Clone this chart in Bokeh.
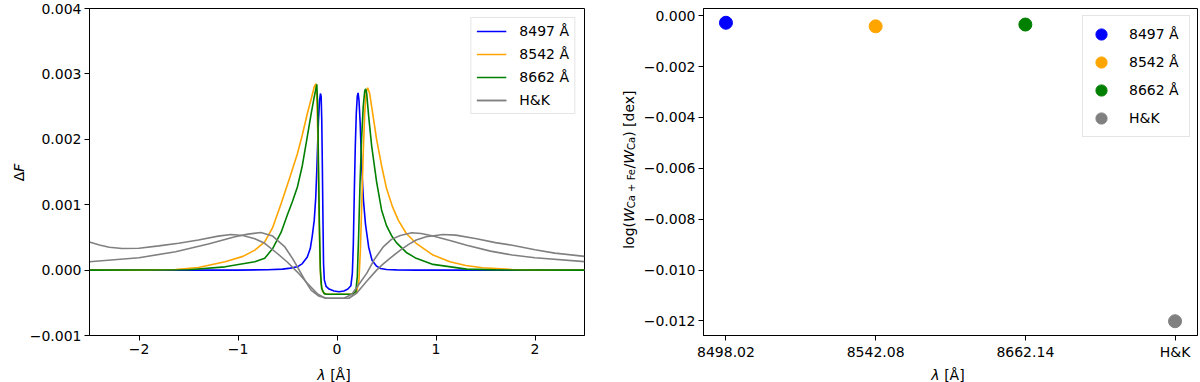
import numpy as np
from bokeh.plotting import figure
from bokeh.layouts import row, column
from bokeh.models import Range1d, FixedTicker, CustomJSTickFormatter, Label
from bokeh.embed import file_html
from bokeh.resources import INLINE

# ---------------- data (left panel: Delta F in units of 1e-3) ----------------
blue_x = [-2.5, -1.0, -0.7, -0.55, -0.47, -0.40, -0.35, -0.30, -0.27, -0.25, -0.23, -0.215, -0.204,
          -0.195, -0.187, -0.176, -0.167, -0.160, -0.154, -0.148, -0.142, -0.136, -0.128, -0.11,
          -0.08, -0.03, 0.02, 0.07, 0.11, 0.14, 0.155, 0.165, 0.175, 0.185, 0.195, 0.205, 0.213,
          0.222, 0.234, 0.251, 0.268, 0.288, 0.32, 0.354, 0.40, 0.44, 0.50, 0.60, 0.80, 2.5]
blue_y = [0, 0, 0.005, 0.015, 0.03, 0.05, 0.10, 0.20, 0.33, 0.52, 0.76, 1.10, 1.53, 1.95, 2.29,
          2.60, 2.70, 2.65, 2.30, 1.60, 0.80, 0.10, -0.15, -0.25, -0.29, -0.32, -0.33, -0.32,
          -0.29, -0.24, -0.05, 0.40, 1.20, 1.90, 2.40, 2.66, 2.71, 2.60, 2.25, 1.53, 1.05, 0.70,
          0.35, 0.15, 0.06, 0.025, 0.01, 0.003, 0, 0]

orange_x = [-2.5, -2.0, -1.63, -1.4, -1.13, -0.95, -0.83, -0.73, -0.65, -0.564, -0.48, -0.40,
            -0.35, -0.30, -0.26, -0.23, -0.213, -0.203, -0.193, -0.183, -0.173, -0.162, -0.145,
            -0.11, 0.15, 0.20, 0.222, 0.236, 0.25, 0.265, 0.28, 0.295, 0.31, 0.33, 0.36, 0.40,
            0.45, 0.50, 0.56, 0.62, 0.70, 0.80, 0.97, 1.14, 1.30, 1.47, 1.77, 2.0, 2.5]
orange_y = [0, 0.0, 0.01, 0.04, 0.127, 0.21, 0.305, 0.43, 0.65, 1.02, 1.40, 1.78, 2.07, 2.39,
            2.62, 2.80, 2.85, 2.60, 2.00, 1.00, 0.20, -0.20, -0.33, -0.37, -0.37, -0.33, -0.15,
            0.30, 1.00, 1.80, 2.40, 2.72, 2.79, 2.70, 2.40, 2.00, 1.60, 1.25, 0.97, 0.76, 0.56,
            0.41, 0.23, 0.127, 0.07, 0.035, 0.01, 0, 0]

green_x = [-2.5, -1.5, -1.13, -0.83, -0.73, -0.65, -0.564, -0.50, -0.45, -0.40, -0.35, -0.30,
           -0.26, -0.23, -0.204, -0.195, -0.187, -0.178, -0.168, -0.155, -0.13, -0.10, 0.15,
           0.19, 0.205, 0.218, 0.232, 0.248, 0.265, 0.28, 0.29, 0.30, 0.32, 0.35, 0.40, 0.45,
           0.50, 0.55, 0.60, 0.70, 0.80, 0.97, 1.31, 1.6, 2.5]
green_y = [0, 0.005, 0.05, 0.127, 0.18, 0.33, 0.58, 0.85, 1.05, 1.27, 1.6, 2.04, 2.4, 2.65,
           2.84, 2.5, 1.6, 0.7, 0.0, -0.28, -0.36, -0.37, -0.37, -0.33, -0.10, 0.5, 1.3, 2.0,
           2.5, 2.74, 2.77, 2.7, 2.35, 1.9, 1.35, 0.92, 0.68, 0.53, 0.42, 0.27, 0.18, 0.087,
           0.015, 0.003, 0]

hk_outer_x = [-2.5, -2.4, -2.3, -2.17, -2.0, -1.8, -1.6, -1.4, -1.2, -1.07, -0.95, -0.83, -0.73,
              -0.6, -0.5, -0.4, -0.3, -0.2, -0.12, 0.12, 0.2, 0.3, 0.4, 0.47, 0.55, 0.64, 0.72,
              0.80, 0.9, 1.07, 1.2, 1.41, 1.6, 1.77, 2.0, 2.2, 2.5]
hk_outer_y = [0.43, 0.385, 0.35, 0.33, 0.335, 0.37, 0.41, 0.46, 0.52, 0.545, 0.53, 0.48, 0.41,
              0.25, 0.12, -0.03, -0.2, -0.36, -0.43, -0.43, -0.35, -0.17, 0.0, 0.10, 0.2, 0.305,
              0.39, 0.46, 0.51, 0.545, 0.535, 0.48, 0.42, 0.38, 0.31, 0.26, 0.21]

hk_inner_x = [-2.5, -2.0, -1.63, -1.3, -1.03, -0.9, -0.77, -0.65, -0.53, -0.45, -0.40, -0.33,
              -0.26, -0.18, -0.10, 0.07, 0.15, 0.22, 0.30, 0.38, 0.47, 0.55, 0.64, 0.755, 0.85,
              0.97, 1.15, 1.31, 1.55, 1.77, 2.0, 2.5]
hk_inner_y = [0.127, 0.19, 0.28, 0.40, 0.51, 0.55, 0.575, 0.52, 0.36, 0.18, 0.05, -0.14, -0.31,
              -0.40, -0.43, -0.43, -0.37, -0.22, -0.05, 0.17, 0.36, 0.47, 0.53, 0.57, 0.56, 0.52,
              0.45, 0.38, 0.29, 0.23, 0.19, 0.13]

series_labels = ["8497 Å", "8542 Å", "8662 Å", "H&K"]
series_colors = ["blue", "orange", "green", "gray"]

# ---------------- data (right panel) ----------------
categories = ["8498.02", "8542.08", "8662.14", "H&K"]
log_ratio = [-0.00028, -0.00042, -0.00035, -0.01201]

FONT = "DejaVu Sans"
FS = "14px"

# ---------------- geometry ----------------
ROW_H, STRIP_H = 362, 20
LAB_L_W, LAB_R_W = 26, 40
L_W, L_BL, L_BR, L_BT, L_BB = 574, 57, 16, 8, 26
R_W, R_BL, R_BR, R_BT, R_BB = 560, 58, 3, 3, 27

lx0, lx1, ly0, ly1 = -2.5, 2.5, -0.001, 0.004
rx0, rx1, ry0, ry1 = -0.15, 3.15, -0.01257, 0.00028


def style(p):
    p.xgrid.visible = False
    p.ygrid.visible = False
    p.outline_line_color = "black"
    p.outline_line_width = 1
    for ax in (p.xaxis[0], p.yaxis[0]):
        ax.axis_line_color = "black"
        ax.major_tick_line_color = "black"
        ax.major_tick_out = 5
        ax.major_tick_in = 0
        ax.minor_tick_line_color = None
        ax.major_label_text_font = FONT
        ax.major_label_text_font_size = FS
        ax.major_label_text_color = "black"
        ax.major_label_standoff = 3


def style_legend(lg, margin, padding, spacing, gh, gw, standoff, label_width=20):
    lg.location = "top_right"
    lg.margin = margin
    lg.padding = padding
    lg.spacing = spacing
    lg.label_height = gh
    lg.glyph_height = gh
    lg.glyph_width = gw
    lg.label_standoff = standoff
    lg.label_width = label_width
    lg.label_text_font = FONT
    lg.label_text_font_size = FS
    lg.label_text_color = "black"
    lg.border_line_color = "#cccccc"
    lg.background_fill_alpha = 0.8


def text_strip(width, height):
    """A bare figure whose frame is the whole canvas; used only to hold axis-title text."""
    s = figure(width=width, height=height, output_backend="svg", toolbar_location=None,
               x_range=Range1d(0, 1), y_range=Range1d(0, 1), min_border=0,
               x_axis_location=None, y_axis_location=None)
    s.grid.visible = False
    s.outline_line_color = None
    return s


def add_label_pieces(p, pieces, base, start, rotated):
    """Mixed-style label in canvas pixels (y measured from the top).
    pieces: (text, size_px, italic, baseline_shift_down_px, advance_px)"""
    pos = 0.0
    for text, size, italic, shift, wpx in pieces:
        if rotated:
            x, y, ang = base + shift, start - pos, np.pi / 2
        else:
            x, y, ang = start + pos, base + shift, 0
        p.add_layout(Label(x=x, y=y, x_units="canvas", y_units="canvas", text=text,
                           angle=ang, text_align="left", text_baseline="alphabetic",
                           text_font=FONT, text_font_size=f"{size}px",
                           text_font_style="italic" if italic else "normal",
                           text_color="black"))
        pos += wpx


# ---------------- left panel ----------------
p1 = figure(width=L_W, height=ROW_H, output_backend="svg", toolbar_location=None,
            x_range=Range1d(lx0, lx1), y_range=Range1d(ly0, ly1),
            min_border_left=L_BL, min_border_right=L_BR, min_border_top=L_BT,
            min_border_bottom=L_BB)
style(p1)
p1.xaxis.ticker = FixedTicker(ticks=[-2, -1, 0, 1, 2])
p1.yaxis.ticker = FixedTicker(ticks=[-0.001, 0.0, 0.001, 0.002, 0.003, 0.004])
p1.xaxis.formatter = CustomJSTickFormatter(
    code="return (tick < 0 ? '\u2212' : '') + Math.abs(tick).toFixed(0);")
p1.yaxis.formatter = CustomJSTickFormatter(
    code="return (tick < -1e-12 ? '\u2212' : '') + Math.abs(tick).toFixed(3);")

scale = 1e-3
curves = [(blue_x, blue_y, 0), (orange_x, orange_y, 1), (green_x, green_y, 2),
          (hk_outer_x, hk_outer_y, 3), (hk_inner_x, hk_inner_y, 3)]
for xs, ys, k in curves:
    p1.line(xs, np.array(ys) * scale, line_color=series_colors[k], line_width=1.6,
            legend_label=series_labels[k])

style_legend(p1.legend[0], margin=9, padding=5, spacing=7, gh=16, gw=30, standoff=13)

# ---------------- right panel ----------------
p2 = figure(width=R_W, height=ROW_H, output_backend="svg", toolbar_location=None,
            x_range=Range1d(rx0, rx1), y_range=Range1d(ry0, ry1),
            min_border_left=R_BL, min_border_right=R_BR, min_border_top=R_BT,
            min_border_bottom=R_BB)
style(p2)
p2.xaxis.ticker = FixedTicker(ticks=list(range(len(categories))))
p2.xaxis.formatter = CustomJSTickFormatter(
    args=dict(labels=categories),
    code="const i = Math.round(tick); return (i >= 0 && i < labels.length) ? labels[i] : '';")
p2.yaxis.ticker = FixedTicker(ticks=[0.0, -0.002, -0.004, -0.006, -0.008, -0.010, -0.012])
p2.yaxis.formatter = CustomJSTickFormatter(
    code="return (tick < -1e-12 ? '\u2212' : '') + Math.abs(tick).toFixed(3);")

for i, (cat, val) in enumerate(zip(categories, log_ratio)):
    p2.scatter([i], [val], size=13, marker="circle", fill_color=series_colors[i],
               line_color=series_colors[i], legend_label=series_labels[i])

style_legend(p2.legend[0], margin=7, padding=4, spacing=-6, gh=28, gw=28, standoff=14,
             label_width=56)

# ---------------- axis titles (real text, mixed styles) ----------------
dF_pieces = [("Δ", 14, False, 0, 9.6), ("F", 14, True, 0, 8.1)]
lam_pieces = [("λ", 14, True, 0, 12.8), ("[Å]", 14, False, 0, 20.5)]
ylab_pieces = [("log(", 14, False, 0, 26.8), ("W", 14, True, 0, 13.8),
               ("Ca + Fe", 10, False, 3, 39.8), ("/", 14, False, 0, 4.7),
               ("W", 14, True, 0, 13.8), ("Ca", 10, False, 3, 13.1),
               (") [dex]", 14, False, 0, 46.6)]


def total(pcs):
    return sum(pc[4] for pc in pcs)


labL = text_strip(LAB_L_W, ROW_H)
l_center_y = L_BT + (ROW_H - L_BT - L_BB) / 2
add_label_pieces(labL, dF_pieces, base=18, start=l_center_y + total(dF_pieces) / 2, rotated=True)

labR = text_strip(LAB_R_W, ROW_H)
r_center_y = R_BT + (ROW_H - R_BT - R_BB) / 2
add_label_pieces(labR, ylab_pieces, base=28, start=r_center_y + total(ylab_pieces) / 2,
                 rotated=True)

bottom = text_strip(LAB_L_W + L_W + LAB_R_W + R_W, STRIP_H)
l_center_x = LAB_L_W + L_BL + (L_W - L_BL - L_BR) / 2
r_center_x = LAB_L_W + L_W + LAB_R_W + R_BL + (R_W - R_BL - R_BR) / 2
add_label_pieces(bottom, lam_pieces, base=12, start=l_center_x - total(lam_pieces) / 2,
                 rotated=False)
add_label_pieces(bottom, lam_pieces, base=12, start=r_center_x - total(lam_pieces) / 2,
                 rotated=False)

layout = column(row(labL, p1, labR, p2), bottom)
open("out.html", "w").write(file_html(layout, INLINE))
